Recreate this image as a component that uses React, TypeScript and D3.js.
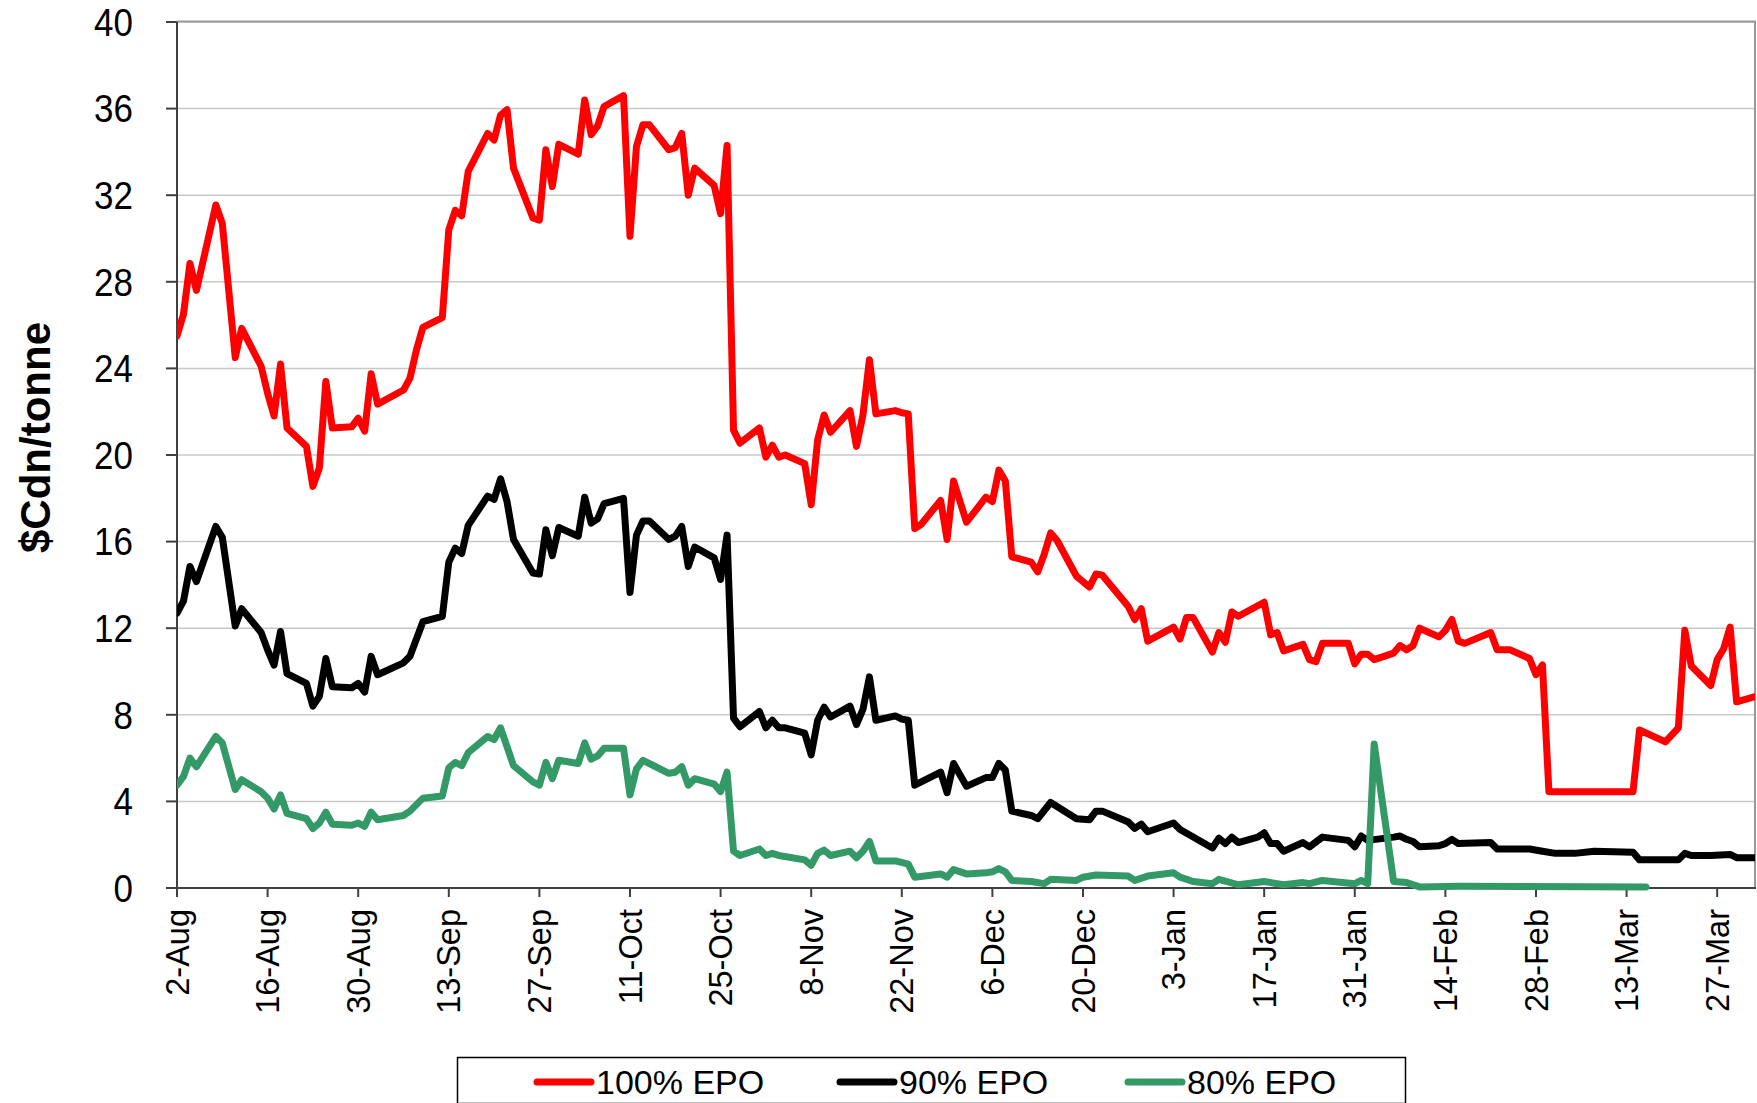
import React from "react";
import * as d3 from "d3";

// ---------- data ----------
const START = Date.UTC(2007, 7, 2); // 2-Aug
const DOMAIN_DAYS = 244;

const xTickLabels = [
  "2-Aug", "16-Aug", "30-Aug", "13-Sep", "27-Sep", "11-Oct", "25-Oct", "8-Nov", "22-Nov",
  "6-Dec", "20-Dec", "3-Jan", "17-Jan", "31-Jan", "14-Feb", "28-Feb", "13-Mar", "27-Mar",
];
const yTicks = [0, 4, 8, 12, 16, 20, 24, 28, 32, 36, 40];

// day offsets from 2-Aug, and values ($Cdn/tonne)
const redDays = [
  0, 1, 2, 3, 6, 7, 9, 10, 13, 14, 15, 16, 17, 20, 21, 22, 23, 24, 27, 28, 29, 30, 31, 35, 36, 37, 38,
  41, 42, 43, 44, 45, 48, 49, 50, 51, 52, 55, 56, 57, 58, 59, 62, 63, 64, 65, 66, 69, 70, 71, 72, 73,
  76, 77, 78, 79, 80, 83, 84, 85, 86, 87, 90, 91, 92, 93, 94, 97, 98, 99, 100, 101, 104, 105, 106, 107,
  108, 111, 112, 113, 114, 115, 118, 119, 120, 122, 125, 126, 127, 128, 129, 132, 133, 134, 135, 136,
  139, 141, 142, 143, 147, 148, 149, 150, 154, 155, 156, 157, 160, 161, 162, 163, 164, 168, 169, 170,
  171, 174, 175, 176, 177, 181, 182, 183, 184, 185, 188, 189, 190, 191, 192, 195, 196, 197, 198, 199,
  203, 204, 206, 209, 210, 211, 212, 225, 226, 230, 232, 233, 234, 237, 238, 239, 240, 241, 244,
];
const redValues = [
  25.5, 26.5, 28.85, 27.6, 31.55, 30.7, 24.5, 25.85, 24.1, 22.85, 21.8, 24.2, 21.25, 20.4, 18.55, 19.4,
  23.4, 21.25, 21.3, 21.7, 21.1, 23.75, 22.35, 23.0, 23.55, 24.85, 25.9,
  26.35, 30.4, 31.3, 31.05, 33.1, 34.85, 34.55, 35.7, 35.95, 33.25, 30.95, 30.85, 34.1, 32.4, 34.35,
  33.9, 36.4, 34.8, 35.2, 36.1, 36.6, 30.1, 34.25, 35.25, 35.25,
  34.1, 34.2, 34.85, 32.0, 33.25, 32.45, 31.15, 34.3, 21.15, 20.55, 21.25, 19.9, 20.45, 19.9, 20.0,
  19.6, 17.7, 20.7, 21.85, 21.05, 22.05, 20.4, 21.85, 24.4,
  21.9, 22.05, 21.95, 21.9, 16.6, 16.8, 17.9, 16.1, 18.8, 16.9, 18.05, 17.85, 19.3, 18.8, 15.3, 15.05,
  14.6, 15.4, 16.4, 16.05,
  14.4, 13.9, 14.5, 14.45, 13.0, 12.4, 12.9, 11.4, 12.05, 11.5, 12.5, 12.5, 10.9, 11.8, 11.35, 12.75,
  12.55, 13.2, 11.7, 11.8,
  10.95, 11.25, 10.55, 10.45, 11.3, 11.3, 10.35, 10.8, 10.8, 10.55, 10.85, 11.2, 11.0, 11.2, 12.0,
  11.6, 11.9, 12.4, 11.4, 11.3,
  11.8, 11.0, 11.0, 10.6, 9.85, 10.3, 4.45, 4.45, 7.3, 6.75, 7.4, 11.9, 10.25, 9.35, 10.55, 11.05,
  12.05, 8.6, 8.85,
];

const blackDays = [
  0, 1, 2, 3, 6, 7, 9, 10, 13, 14, 15, 16, 17, 20, 21, 22, 23, 24, 27, 28, 29, 30, 31, 35, 36, 38,
  41, 42, 43, 44, 45, 48, 49, 50, 51, 52, 55, 56, 57, 58, 59, 62, 63, 64, 65, 66, 69, 70, 71, 72, 73,
  76, 77, 78, 79, 80, 83, 84, 85, 86, 87, 90, 91, 92, 93, 94, 97, 98, 99, 100, 101, 104, 105, 106, 107,
  108, 111, 112, 113, 114, 118, 119, 120, 122, 125, 126, 127, 128, 129, 132, 133, 135,
  139, 141, 142, 143, 147, 148, 149, 150, 154, 155, 160, 161, 162, 163, 164, 167, 168, 169, 170,
  171, 174, 175, 177, 181, 182, 183, 184, 188, 189, 190, 191, 192, 195, 196, 197, 198,
  203, 204, 209, 211, 213, 216, 219, 225, 226, 232, 233, 234, 237, 240, 241, 244,
];
const blackValues = [
  12.7, 13.25, 14.85, 14.15, 16.7, 16.2, 12.1, 12.9, 11.8, 11.0, 10.3, 11.85, 9.9, 9.45, 8.4, 8.85,
  10.6, 9.3, 9.25, 9.45, 9.05, 10.7, 9.85, 10.4, 10.7, 12.3,
  12.55, 15.05, 15.7, 15.45, 16.75, 18.1, 17.95, 18.9, 17.85, 16.1, 14.55, 14.5, 16.55, 15.35, 16.65,
  16.25, 18.05, 16.85, 17.05, 17.75, 18.0, 13.65, 16.3, 16.95, 16.95,
  16.1, 16.25, 16.7, 14.85, 15.75, 15.25, 14.25, 16.3, 7.85, 7.45, 8.15, 7.4, 7.75, 7.4, 7.4,
  7.15, 6.15, 7.75, 8.35, 7.9, 8.4, 7.55, 8.25, 9.75,
  7.75, 7.95, 7.8, 7.75, 4.75, 5.35, 4.4, 5.75, 4.7, 5.1, 5.1, 5.75, 5.45, 3.55, 3.35, 3.2, 3.95,
  3.2, 3.15, 3.55, 3.55, 3.05, 2.75, 2.95, 2.6, 3.0, 2.7, 1.85, 2.3, 2.05, 2.35, 2.1, 2.35, 2.55, 2.05,
  2.05,
  1.7, 2.1, 1.9, 2.35, 2.2, 1.9, 2.4, 2.2, 2.35, 2.4, 2.25, 2.15, 1.9, 1.95, 2.05, 2.25, 2.05,
  2.1, 1.8, 1.8, 1.7, 1.6, 1.6, 1.7, 1.65, 1.3, 1.3, 1.6, 1.5, 1.5, 1.55, 1.4, 1.4,
];

const greenDays = [
  0, 1, 2, 3, 6, 7, 9, 10, 13, 14, 15, 16, 17, 20, 21, 22, 23, 24, 27, 28, 29, 30, 31, 35, 36, 38,
  41, 42, 43, 44, 45, 48, 49, 50, 52, 55, 56, 57, 58, 59, 62, 63, 64, 65, 66, 69, 70, 71, 72,
  76, 77, 78, 79, 80, 83, 84, 85, 86, 87, 90, 91, 92, 93, 97, 98, 99, 100, 101, 104, 105, 106, 107,
  108, 111, 113, 114, 118, 119, 120, 122, 125, 126, 127, 128, 129, 132, 134, 135,
  139, 140, 142, 147, 148, 150, 154, 155, 157, 160, 161, 164, 168, 171, 174, 175, 177, 182, 183, 184,
  185, 188, 190, 192, 198, 227,
];
const greenValues = [
  4.75, 5.15, 6.0, 5.6, 7.0, 6.7, 4.55, 5.0, 4.45, 4.15, 3.65, 4.3, 3.45, 3.2, 2.75, 3.0, 3.5, 2.95,
  2.9, 3.0, 2.85, 3.5, 3.15, 3.35, 3.55, 4.15,
  4.25, 5.55, 5.8, 5.65, 6.25, 7.0, 6.85, 7.4, 5.65, 4.9, 4.75, 5.8, 5.05, 5.9, 5.75, 6.7, 5.95, 6.1,
  6.45, 6.45, 4.3, 5.5, 5.9,
  5.3, 5.35, 5.6, 4.75, 5.05, 4.8, 4.45, 5.35, 1.7, 1.5, 1.8, 1.5, 1.6, 1.5, 1.3, 1.05, 1.6, 1.75, 1.5,
  1.7, 1.4, 1.7, 2.15,
  1.25, 1.25, 1.1, 0.5, 0.65, 0.5, 0.85, 0.65, 0.7, 0.75, 0.9, 0.75, 0.35, 0.3, 0.2, 0.4,
  0.35, 0.5, 0.6, 0.55, 0.35, 0.55, 0.7, 0.5, 0.3, 0.2, 0.4, 0.15, 0.3, 0.15, 0.25, 0.2, 0.35, 0.2,
  0.35, 0.2,
  6.65, 0.3, 0.25, 0.05, 0.08, 0.05,
];

const seriesNames = ["100% EPO", "90% EPO", "80% EPO"];
const seriesDays = [redDays, blackDays, greenDays];
const seriesValues = [redValues, blackValues, greenValues];
const seriesColors = ["#FF0000", "#000000", "#339966"];

// ---------- layout ----------
const W = 1757;
const H = 1103;
const M = { left: 177, top: 22, right: 1756, bottom: 888 };
const FONT = "'Liberation Sans', Arial, Helvetica, sans-serif";

const dayToDate = (d: number) => new Date(START + d * 86400000);
const parseTick = (s: string) => {
  const [dd, mon] = s.split("-");
  const months = ["Jan","Feb","Mar","Apr","May","Jun","Jul","Aug","Sep","Oct","Nov","Dec"];
  const m = months.indexOf(mon);
  const year = m >= 6 ? 2007 : 2008;
  return new Date(Date.UTC(year, m, +dd));
};

export default function App() {
  const x = d3.scaleUtc().domain([dayToDate(0), dayToDate(DOMAIN_DAYS)]).range([M.left, M.right]);
  const y = d3.scaleLinear().domain([0, 40]).range([M.bottom, M.top]);

  const line = d3
    .line<[Date, number]>()
    .x((d) => x(d[0]))
    .y((d) => y(d[1]))
    .curve(d3.curveLinear);

  const tickDates = xTickLabels.map(parseTick);

  const legendItems = [537, 840, 1128];

  return (
    <svg
      width={W}
      height={H}
      viewBox={`0 0 ${W} ${H}`}
      style={{ position: "absolute", left: 0, top: 0, display: "block", background: "#fff" }}
      fontFamily={FONT}
    >
      <rect x={0} y={0} width={W} height={H} fill="#fff" />
      <defs>
        <clipPath id="plotClip">
          <rect x={M.left} y={M.top - 10} width={M.right - M.left - 1} height={M.bottom - M.top + 20} />
        </clipPath>
      </defs>

      {/* gridlines */}
      {yTicks.filter((t) => t > 0).map((t) => (
        <line key={"g" + t} x1={M.left} x2={M.right} y1={y(t)} y2={y(t)} stroke="#C8C8C8" strokeWidth={1.5} />
      ))}

      {/* plot border top/right */}
      <line x1={M.left} x2={M.right} y1={M.top - 0.5} y2={M.top - 0.5} stroke="#999" strokeWidth={2} />
      <line x1={M.right - 1} x2={M.right - 1} y1={M.top} y2={M.bottom} stroke="#999" strokeWidth={2} />

      {/* y axis */}
      <line x1={M.left} x2={M.left} y1={M.top} y2={M.bottom} stroke="#404040" strokeWidth={2} />
      {yTicks.map((t) => (
        <g key={"y" + t}>
          <line x1={M.left - 11} x2={M.left} y1={y(t)} y2={y(t)} stroke="#404040" strokeWidth={2} />
          <text
            transform={`translate(133,${y(t)}) scale(1,1.1)`}
            dy="0.36em"
            textAnchor="end"
            fontSize={35}
            fill="#000"
          >
            {t}
          </text>
        </g>
      ))}

      {/* x axis */}
      <line x1={M.left} x2={M.right} y1={M.bottom} y2={M.bottom} stroke="#404040" strokeWidth={2} />
      {tickDates.map((d, i) => (
        <g key={"x" + i}>
          <line x1={x(d)} x2={x(d)} y1={M.bottom} y2={M.bottom + 9} stroke="#404040" strokeWidth={2} />
          <text
            transform={`translate(${x(d)},${M.bottom + 21}) rotate(-90)`}
            dy="0.36em"
            textAnchor="end"
            fontSize={32.5}
            fill="#000"
          >
            {xTickLabels[i]}
          </text>
        </g>
      ))}

      {/* y title */}
      <text
        transform={`translate(50,437.5) rotate(-90)`}
        textAnchor="middle"
        fontSize={42}
        fontWeight="bold"
        fill="#000"
      >
        $Cdn/tonne
      </text>

      {/* series */}
      <g clipPath="url(#plotClip)">
        {seriesNames.map((name, i) => {
          const pts: [Date, number][] = seriesDays[i].map((d, j) => [dayToDate(d), seriesValues[i][j]]);
          return (
            <path
              key={name}
              d={line(pts) || ""}
              fill="none"
              stroke={seriesColors[i]}
              strokeWidth={7}
              strokeLinejoin="round"
              strokeLinecap="round"
            />
          );
        })}
      </g>

      {/* legend */}
      <rect x={457.5} y={1057.5} width={948} height={46} fill="#fff" stroke="#000" strokeWidth={1.5} />
      {seriesNames.map((name, i) => (
        <g key={"l" + i}>
          <line
            x1={legendItems[i]}
            x2={legendItems[i] + 54}
            y1={1082}
            y2={1082}
            stroke={seriesColors[i]}
            strokeWidth={7}
            strokeLinecap="round"
          />
          <text x={legendItems[i] + 59} y={1082} dy="0.36em" fontSize={34} fill="#000">
            {name}
          </text>
        </g>
      ))}
    </svg>
  );
}
